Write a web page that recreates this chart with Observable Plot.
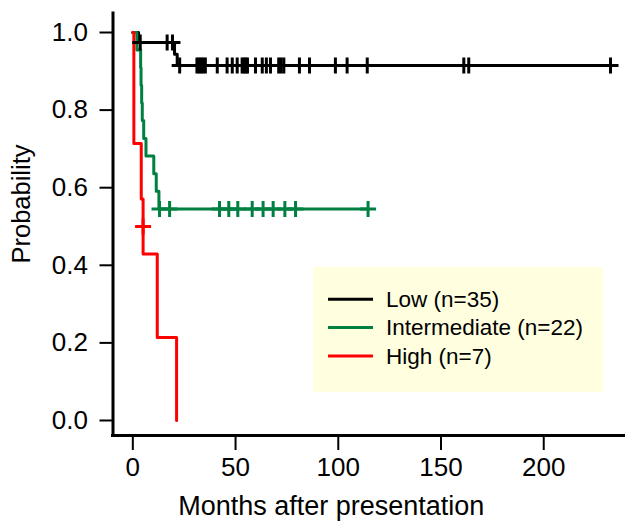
<!DOCTYPE html>
<html><head><meta charset="utf-8">
<script src="https://cdn.jsdelivr.net/npm/d3@7"></script>
<script src="https://cdn.jsdelivr.net/npm/@observablehq/plot@0.6"></script>
<style>
body{margin:0;background:#fff;}
#chart{position:relative;width:625px;height:522px;}
</style></head><body><div id="chart"></div>
<script>
// ---- data ----
const groups = ["Low (n=35)", "Intermediate (n=22)", "High (n=7)"];
const colors = ["#000000", "#008040", "#ff0000"];

const lowTimes = [0, 2.8, 20.3, 21.6, 232.5];
const lowSurv  = [1, 0.974, 0.944, 0.915, 0.915];
const lowCensorTimes = [3.6, 16.7, 19.3, 22.8, 31.2, 32.2, 33.2, 34.2, 35.3, 41.1, 45.9, 48.4, 50.8, 53.2, 54.1, 55.0, 55.8, 59.7, 63.0, 65.0, 67.0, 71.0, 72.2, 73.5, 81.1, 86.0, 98.6, 104.3, 114.1, 161.1, 163.5, 232.5];
const lowCensorSurv  = [0.974, 0.974, 0.974, 0.915, 0.915, 0.915, 0.915, 0.915, 0.915, 0.915, 0.915, 0.915, 0.915, 0.915, 0.915, 0.915, 0.915, 0.915, 0.915, 0.915, 0.915, 0.915, 0.915, 0.915, 0.915, 0.915, 0.915, 0.915, 0.915, 0.915, 0.915, 0.915];

const intTimes = [0, 2.0, 3.8, 4.0, 4.3, 4.6, 5.3, 6.4, 10.2, 11.4, 12.7, 114.5];
const intSurv  = [1, 0.955, 0.909, 0.864, 0.818, 0.773, 0.727, 0.682, 0.636, 0.591, 0.545, 0.545];
const intCensorTimes = [13.0, 17.9, 42.2, 46.7, 51.1, 58.1, 63.4, 68.3, 74.0, 79.2, 114.5];
const intCensorSurv  = [0.545, 0.545, 0.545, 0.545, 0.545, 0.545, 0.545, 0.545, 0.545, 0.545, 0.545];

const highTimes = [0, 0.5, 4.1, 5.0, 11.9, 21.3];
const highSurv  = [1, 0.714, 0.571, 0.429, 0.214, 0];
const highCensorTimes = [5.0];
const highCensorSurv  = [0.5];

const xTicks = [0, 50, 100, 150, 200];
const yTicks = [0, 0.2, 0.4, 0.6, 0.8, 1.0];
const xDomain = [-9.65, 239.8];
const yDomain = [-0.0387, 1.049];
const xTitle = "Months after presentation";
const yTitle = "Probability";

// ---- tables ----
const series = [
  [lowTimes, lowSurv, lowCensorTimes, lowCensorSurv],
  [intTimes, intSurv, intCensorTimes, intCensorSurv],
  [highTimes, highSurv, highCensorTimes, highCensorSurv]
];
const curves = [], censors = [];
series.forEach(([t, s, ct, cs], gi) => {
  t.forEach((v, i) => curves.push({t: v, s: s[i], g: groups[gi]}));
  ct.forEach((v, i) => censors.push({t: v, s: cs[i], g: groups[gi]}));
});

const cross = {
  draw(ctx, size) {
    const r = Math.sqrt(size / Math.PI);
    ctx.moveTo(-r, 0); ctx.lineTo(r, 0);
    ctx.moveTo(0, -r); ctx.lineTo(0, r);
  }
};

const font = "'Liberation Sans', Arial, Helvetica, sans-serif";

const plot = Plot.plot({
  width: 625, height: 522,
  marginLeft: 112.5, marginRight: 0, marginTop: 13, marginBottom: 87,
  style: {fontFamily: font, fontSize: "26px", color: "#000", background: "#fff", overflow: "visible"},
  x: {domain: xDomain},
  y: {domain: yDomain},
  color: {domain: groups, range: colors},
  marks: [
    Plot.line(curves, {x: "t", y: "s", z: "g", stroke: "g", curve: "step-after", strokeWidth: 3}),
    Plot.dot(censors, {x: "t", y: "s", stroke: "g", symbol: cross, r: 8, strokeWidth: 3, fill: "none"}),
    Plot.axisX({ticks: xTicks, tickSize: 15, tickPadding: 7, strokeWidth: 2, label: null, fontSize: 26}),
    Plot.axisY({ticks: yTicks, tickSize: 13, tickPadding: 12, strokeWidth: 2, tickFormat: d3.format(".1f"), label: null, fontSize: 26}),
    Plot.ruleX([xDomain[0]], {strokeWidth: 3, strokeLinecap: "square"}),
    Plot.ruleY([yDomain[0]], {strokeWidth: 3, strokeLinecap: "square"}),
    Plot.text([xTitle], {text: d => d, frameAnchor: "bottom", dx: -38, dy: 71, fontSize: 27, textAnchor: "middle", lineAnchor: "middle"}),
    Plot.text([yTitle], {text: d => d, frameAnchor: "left", rotate: -90, dx: -91.5, dy: -20.5, fontSize: 25.5, textAnchor: "middle", lineAnchor: "middle"})
  ]
});

// ---- legend (inside the panel, as in the reference) ----
const svg = d3.select(plot);
const lg = svg.append("g").attr("font-family", font).attr("font-size", 22.5).attr("text-anchor", "start");
lg.append("rect").attr("x", 313).attr("y", 267).attr("width", 290).attr("height", 125).attr("fill", "#ffffe0");
groups.forEach((g, i) => {
  const y = 299.3 + i * 28.3;
  lg.append("line").attr("x1", 328).attr("x2", 373).attr("y1", y).attr("y2", y)
    .attr("stroke", colors[i]).attr("stroke-width", 3);
  lg.append("text").attr("x", 386).attr("y", y).attr("dy", "0.35em").attr("fill", "#000").attr("text-anchor", "start").text(g);
});

document.getElementById("chart").appendChild(plot);
</script>
</body></html>
